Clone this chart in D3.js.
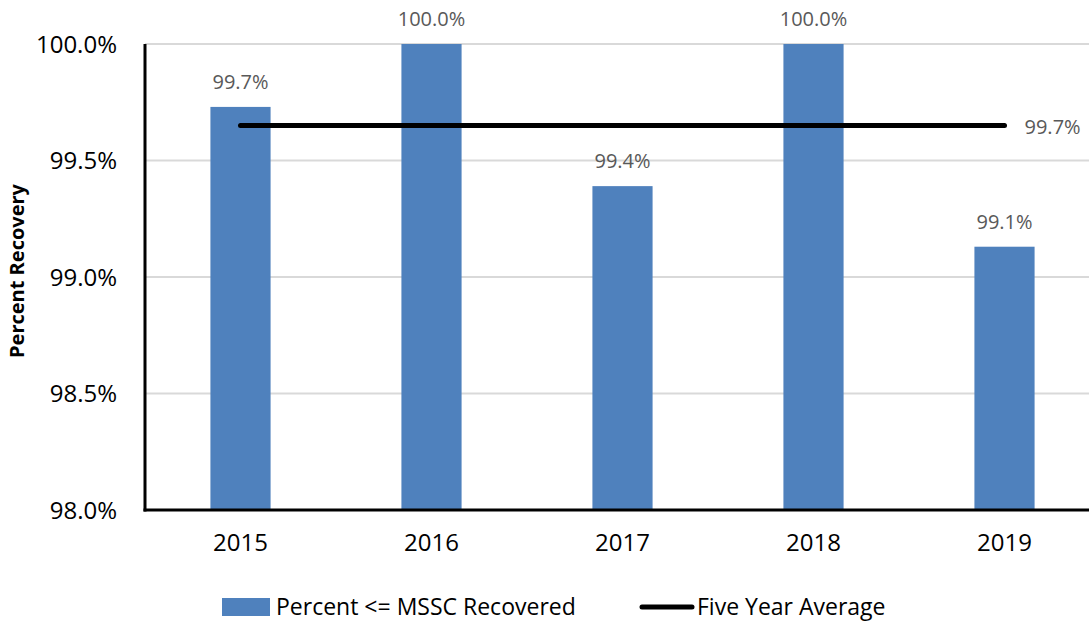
<!DOCTYPE html>
<html><head><meta charset="utf-8">
<script src="https://cdn.jsdelivr.net/npm/d3@7"></script>
<style>body{margin:0;background:#fff;} svg{display:block;}</style>
</head><body>
<svg id="c" width="1089" height="622"></svg>
<script>
const years = ["2015","2016","2017","2018","2019"];
const recovered = [99.73, 100.0, 99.39, 100.0, 99.13];
const fiveYearAvg = [99.65, 99.65, 99.65, 99.65, 99.65];
const yTicks = [98.0, 98.5, 99.0, 99.5, 100.0];
const seriesNames = ["Percent <= MSSC Recovered", "Five Year Average"];

const svg = d3.select("#c");
const font = "'Open Sans', 'Noto Sans', sans-serif";
const L = 145, R = 1100, T = 44, B = 510;
const x = d3.scaleBand().domain(years).range([L, R]).paddingInner(0.685).paddingOuter(0.3425);
const y = d3.scaleLinear().domain([98, 100]).range([B, T]);

// gridlines
svg.append("g").selectAll("line").data(yTicks.filter(d => d > 98)).join("line")
  .attr("x1", L).attr("x2", R).attr("y1", d => y(d)).attr("y2", d => y(d))
  .attr("stroke", "#d9d9d9").attr("stroke-width", 2);

// bars
svg.append("g").selectAll("rect").data(years).join("rect")
  .attr("x", d => x(d)).attr("width", x.bandwidth())
  .attr("y", (d, i) => y(recovered[i])).attr("height", (d, i) => B - y(recovered[i]))
  .attr("fill", "#4f81bd");

// bar labels
svg.append("g").selectAll("text").data(years).join("text")
  .attr("x", d => x(d) + x.bandwidth() / 2)
  .attr("y", (d, i) => y(recovered[i]) - 18)
  .attr("text-anchor", "middle")
  .attr("font-family", font).attr("font-size", 20).attr("fill", "#595959")
  .text((d, i) => recovered[i].toFixed(1) + "%");

// average line
const line = d3.line().x((d, i) => x(years[i]) + x.bandwidth() / 2).y(d => y(d));
svg.append("path").datum(fiveYearAvg).attr("d", line)
  .attr("fill", "none").attr("stroke", "#000").attr("stroke-width", 5).attr("stroke-linecap", "round");
svg.append("text")
  .attr("x", x(years[4]) + x.bandwidth() / 2 + 20).attr("y", y(fiveYearAvg[4]) + 8)
  .attr("font-family", font).attr("font-size", 20).attr("fill", "#595959")
  .text(fiveYearAvg[4].toFixed(1) + "%");

// axes
const yAxis = d3.axisLeft(y).tickValues(yTicks).tickFormat(d => d.toFixed(1) + "%").tickSize(0).tickPadding(28);
const gy = svg.append("g").attr("transform", `translate(${L},0)`).call(yAxis);
gy.select(".domain").remove();
gy.selectAll("text").attr("font-family", font).attr("font-size", 24).attr("fill", "#000").attr("dy", "0.35em");

const xAxis = d3.axisBottom(x).tickSize(0).tickPadding(24);
const gx = svg.append("g").attr("transform", `translate(0,${B})`).call(xAxis);
gx.select(".domain").remove();
gx.selectAll("text").attr("font-family", font).attr("font-size", 24).attr("fill", "#000");

svg.append("line").attr("x1", L).attr("x2", L).attr("y1", T).attr("y2", B + 1.5).attr("stroke", "#000").attr("stroke-width", 3);
svg.append("line").attr("x1", L - 1.5).attr("x2", R).attr("y1", B).attr("y2", B).attr("stroke", "#000").attr("stroke-width", 3);

// y title
svg.append("text").attr("transform", `translate(24,${271}) rotate(-90)`)
  .attr("text-anchor", "middle").attr("font-family", font).attr("font-size", 20).attr("font-weight", "bold")
  .text("Percent Recovery");

// legend
const lg = svg.append("g");
lg.append("rect").attr("x", 222).attr("y", 598).attr("width", 48).attr("height", 18).attr("fill", "#4f81bd");
lg.append("text").attr("x", 276).attr("y", 615).attr("font-family", font).attr("font-size", 23).text(seriesNames[0]);
lg.append("line").attr("x1", 642).attr("x2", 692).attr("y1", 607).attr("y2", 607).attr("stroke", "#000").attr("stroke-width", 5).attr("stroke-linecap", "round");
lg.append("text").attr("x", 697).attr("y", 615).attr("font-family", font).attr("font-size", 23).text(seriesNames[1]);
</script>
</body></html>
